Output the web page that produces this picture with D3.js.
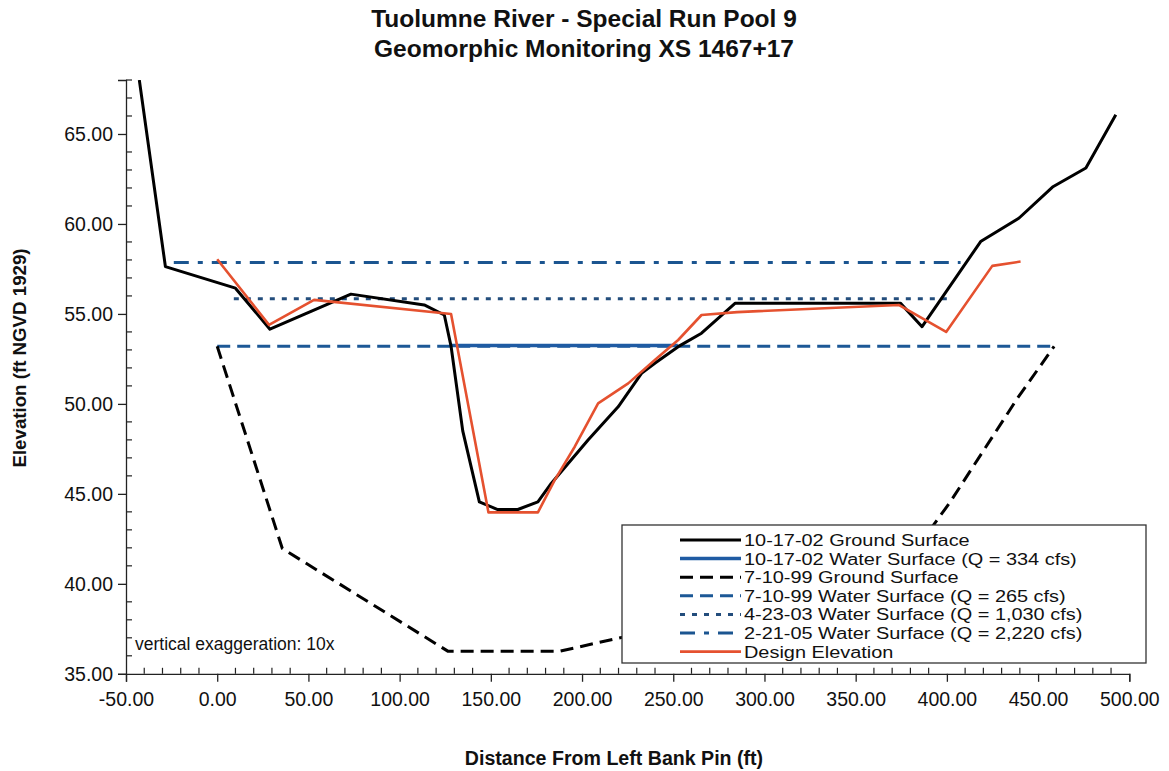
<!DOCTYPE html>
<html>
<head>
<meta charset="utf-8">
<script src="https://cdn.jsdelivr.net/npm/d3@7"></script>
<style>
  html, body { margin: 0; padding: 0; background: #fff; }
  svg { display: block; font-family: "Liberation Sans", Arial, sans-serif; }
</style>
</head>
<body>
<svg id="chart" width="1169" height="771"></svg>
<script>
// ---------------- DATA ----------------
const titleLines = ["Tuolumne River - Special Run Pool 9", "Geomorphic Monitoring XS 1467+17"];
const xLabel = "Distance From Left Bank Pin (ft)";
const yLabel = "Elevation (ft NGVD 1929)";
const noteText = "vertical exaggeration: 10x";

const xTicks = [-50, 0, 50, 100, 150, 200, 250, 300, 350, 400, 450, 500];
const yTicks = [35, 40, 45, 50, 55, 60, 65];

// 10-17-02 Ground Surface
const ground0217X = [-42.7, -28.4, 10, 28.9, 73.3, 113.5, 124.5, 128.2, 134.6, 143.7, 153.8, 164.8, 175.8, 183.1, 203.3, 219.8, 232.6, 239.9, 252.7, 265.5, 284, 327.8, 374.5, 386.4, 418.5, 439.6, 457.9, 476.2, 492.6];
const ground0217Y = [68.0, 57.63, 56.43, 54.15, 56.1, 55.5, 54.94, 53.2, 48.5, 44.55, 44.13, 44.13, 44.55, 45.58, 47.99, 49.84, 51.7, 52.26, 53.18, 53.93, 55.6, 55.6, 55.6, 54.29, 59.02, 60.33, 62.05, 63.11, 66.07];

// 10-17-02 Water Surface (Q = 334 cfs)
const ws0217X = [128.2, 252.5];
const ws0217Y = [53.25, 53.25];

// 7-10-99 Ground Surface
const ground9907X = [0, 35.7, 126.4, 188, 222.5, 372, 401.3, 438.6, 458.8];
const ground9907Y = [53.2, 41.96, 36.26, 36.26, 37.04, 40.4, 44.47, 50.3, 53.2];

// 7-10-99 Water Surface (Q = 265 cfs)
const ws9907X = [0, 458.8];
const ws9907Y = [53.2, 53.2];

// 4-23-03 Water Surface (Q = 1,030 cfs)
const ws0304X = [9.1, 401.3];
const ws0304Y = [55.85, 55.85];

// 2-21-05 Water Surface (Q = 2,220 cfs)
const ws0502X = [-23.8, 407.5];
const ws0502Y = [57.86, 57.86];

// Design Elevation
const designX = [0, 28.4, 53.1, 128.2, 148.7, 175.8, 185, 196, 208.8, 225.3, 239.9, 252.7, 265.5, 285, 373.6, 399.6, 424.9, 440.4];
const designY = [58.04, 54.39, 55.78, 55.0, 43.97, 43.97, 45.76, 47.62, 50.03, 51.14, 52.44, 53.55, 54.94, 55.1, 55.5, 54.0, 57.67, 57.91];

const legendLabels = [
  "10-17-02 Ground Surface",
  "10-17-02 Water Surface (Q = 334 cfs)",
  "7-10-99 Ground Surface",
  "7-10-99 Water Surface (Q = 265 cfs)",
  "4-23-03 Water Surface (Q = 1,030 cfs)",
  "2-21-05 Water Surface (Q = 2,220 cfs)",
  "Design Elevation"
];

// ---------------- STYLES ----------------
const styles = [
  { color: "#000000", width: 3,   dash: null },
  { color: "#1f5ba3", width: 3.5, dash: null },
  { color: "#000000", width: 3,   dash: "13,7" },
  { color: "#1c5896", width: 3,   dash: "13,7" },
  { color: "#234d7c", width: 3,   dash: "5,7" },
  { color: "#1b5590", width: 3,   dash: "15,9,5,9" },
  { color: "#e5512f", width: 2.6, dash: null }
];

const seriesList = [
  { x: ws9907X,    y: ws9907Y,    s: 3 },
  { x: ws0304X,    y: ws0304Y,    s: 4 },
  { x: ws0502X,    y: ws0502Y,    s: 5 },
  { x: ground9907X, y: ground9907Y, s: 2 },
  { x: ws0217X,    y: ws0217Y,    s: 1 },
  { x: ground0217X, y: ground0217Y, s: 0 },
  { x: designX,    y: designY,    s: 6 }
];

// ---------------- LAYOUT ----------------
const svg = d3.select("#chart");
const L = 126, R = 1129.3, T = 80, B = 673.8;

const x = d3.scaleLinear().domain([-50, 500]).range([L, R]);
const y = d3.scaleLinear().domain([35, 68]).range([B, T]);
const fmt = d => d.toFixed(2);

// Title
svg.append("g").selectAll("text").data(titleLines).join("text")
  .attr("x", 584).attr("y", (d, i) => 27 + i * 30)
  .attr("text-anchor", "middle")
  .attr("font-weight", "bold").attr("font-size", 24.5)
  .attr("fill", "#111")
  .text(d => d);

// clip
svg.append("defs").append("clipPath").attr("id", "clip")
  .append("rect").attr("x", L).attr("y", T).attr("width", R - L).attr("height", B - T);

// Lines
const line = d3.line().x(d => x(d[0])).y(d => y(d[1]));
const gLines = svg.append("g").attr("clip-path", "url(#clip)");
seriesList.forEach(sr => {
  const st = styles[sr.s];
  const pts = sr.x.map((v, i) => [v, sr.y[i]]);
  gLines.append("path")
    .attr("d", line(pts))
    .attr("fill", "none")
    .attr("stroke", st.color)
    .attr("stroke-width", st.width)
    .attr("stroke-linejoin", "round")
    .attr("stroke-dasharray", st.dash);
});

// Axes
const xAxis = svg.append("g").attr("transform", `translate(0,${B})`)
  .call(d3.axisBottom(x).tickValues(xTicks).tickFormat(fmt).tickSize(8).tickPadding(18));
const yAxis = svg.append("g").attr("transform", `translate(${L},0)`)
  .call(d3.axisLeft(y).tickValues(yTicks).tickFormat(fmt).tickSize(8).tickPadding(5));
[xAxis, yAxis].forEach(g => {
  g.select(".domain").attr("stroke", "#222").attr("stroke-width", 1.3);
  g.selectAll(".tick line").attr("stroke", "#222").attr("stroke-width", 1.3);
  g.selectAll(".tick text").attr("font-size", 19.5).attr("fill", "#111")
    .attr("font-family", "'Liberation Sans', Arial, sans-serif");
});
xAxis.selectAll(".tick text").attr("dy", "0.32em");

// Minor ticks (inside)
const xMinor = d3.range(-50, 500.01, 10).filter(v => !xTicks.includes(v));
const yMinor = d3.range(35, 68.01, 1).filter(v => !yTicks.includes(v));
svg.append("g").selectAll("line").data(xMinor).join("line")
  .attr("x1", d => x(d)).attr("x2", d => x(d))
  .attr("y1", B).attr("y2", B - 6)
  .attr("stroke", "#222").attr("stroke-width", 1.2);
svg.append("g").selectAll("line").data(yMinor).join("line")
  .attr("y1", d => y(d)).attr("y2", d => y(d))
  .attr("x1", L).attr("x2", L + 6)
  .attr("stroke", "#222").attr("stroke-width", 1.2);

// Axis labels
svg.append("text")
  .attr("x", 614).attr("y", 765)
  .attr("text-anchor", "middle")
  .attr("font-weight", "bold").attr("font-size", 19.6).attr("fill", "#111")
  .text(xLabel);
svg.append("text")
  .attr("transform", "translate(26,358) rotate(-90)")
  .attr("text-anchor", "middle")
  .attr("font-weight", "bold").attr("font-size", 18.7).attr("fill", "#111")
  .text(yLabel);

// Note
svg.append("text")
  .attr("x", 135).attr("y", 650)
  .attr("font-size", 17.5).attr("fill", "#111")
  .text(noteText);

// Legend
const lg = svg.append("g");
lg.append("rect")
  .attr("x", 622).attr("y", 525).attr("width", 1146 - 622).attr("height", 663 - 525)
  .attr("fill", "#fff").attr("stroke", "#333").attr("stroke-width", 1.3);
const rowY = i => 540 + i * 18.6;
legendLabels.forEach((lab, i) => {
  const st = styles[i];
  lg.append("line")
    .attr("x1", 680).attr("x2", 741)
    .attr("y1", rowY(i)).attr("y2", rowY(i))
    .attr("stroke", st.color).attr("stroke-width", st.width)
    .attr("stroke-dasharray", st.dash);
  const t = lg.append("text")
    .attr("x", 744).attr("y", rowY(i) + 6)
    .attr("font-size", 16).attr("fill", "#111")
    .text(lab);
  const w = t.node().getComputedTextLength();
  t.attr("textLength", w * 19.9 / 16).attr("lengthAdjust", "spacingAndGlyphs");
});
</script>
</body>
</html>
